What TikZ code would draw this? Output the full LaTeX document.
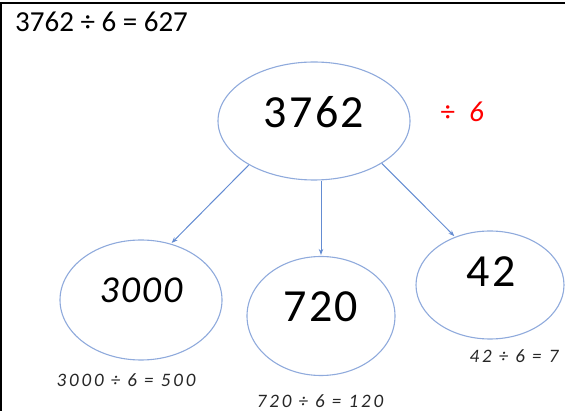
\documentclass[tikz,border=0pt]{standalone}
\usepackage{fontspec}
\setmainfont{Carlito}
\newfontfamily\spacedfont[LetterSpace=5]{Carlito}
\newfontfamily\widefont[LetterSpace=15]{Carlito}
\usetikzlibrary{shapes.geometric, arrows.meta, positioning, calc}
\definecolor{ringblue}{RGB}{143,170,220}
\definecolor{arrowblue}{RGB}{100,140,210}

\begin{document}
\begin{tikzpicture}[x=1pt, y=-1pt, >=Stealth,
  part/.style={ellipse, draw=ringblue, line width=1.1pt, inner sep=0pt},
  bignum/.style={font=\spacedfont\fontsize{46}{50}\selectfont, inner sep=0pt},
  sum/.style={font=\widefont\itshape\fontsize{19}{20}\selectfont, text=black!85, inner sep=0pt},
  link/.style={-{Stealth[length=6pt]}, draw=arrowblue, line width=1pt, shorten >=1pt}]
  \useasboundingbox (0,0) rectangle (565,411);
  \draw[line width=2.5pt] (0,3) -- (565,3);
  \draw[line width=2pt] (1,3) -- (1,411);

  \node[anchor=base west, inner sep=0pt, font=\fontsize{29}{30}\selectfont] (title) at (15,32) {3762 ÷ 6 = 627};

  % the number and its parts
  \node[part, minimum width=192pt, minimum height=118pt] (whole) at (314,121) {};
  \node[part, minimum width=162pt, minimum height=120pt] (thousands) at (141,300) {};
  \node[part, minimum width=148pt, minimum height=119pt] (tens) at (321,316) {};
  \node[part, minimum width=148pt, minimum height=108pt] (ones) at (490,285) {};

  \node[bignum] (wholenum) at (314,112) {3762};
  \node[bignum, font=\spacedfont\itshape\fontsize{38}{40}\selectfont] (thousandsnum) at (141,290) {3000};
  \node[bignum] (tensnum) at (321,307) {720};
  \node[bignum] (onesnum) at (491,272) {42};
  \node[inner sep=0pt, text=red, font=\spacedfont\fontsize{29}{30}\selectfont] (divisor) at (463,112) {÷\hspace{14pt}\textit{6}};

  \draw[link] (whole.214) -- (thousands.62);
  \draw[link] (whole.south -| tens.north) -- (tens.north);
  \draw[link] (whole.-32) -- (ones.126);

  % the three divisions
  \node[sum] (thousandssum) at (126,380) {3000 ÷ 6 = 500};
  \node[sum] (tenssum) at (320,401) {720 ÷ 6 = 120};
  \node[sum] (onessum) at (514,356) {42 ÷ 6 = 7};
\end{tikzpicture}
\end{document}
